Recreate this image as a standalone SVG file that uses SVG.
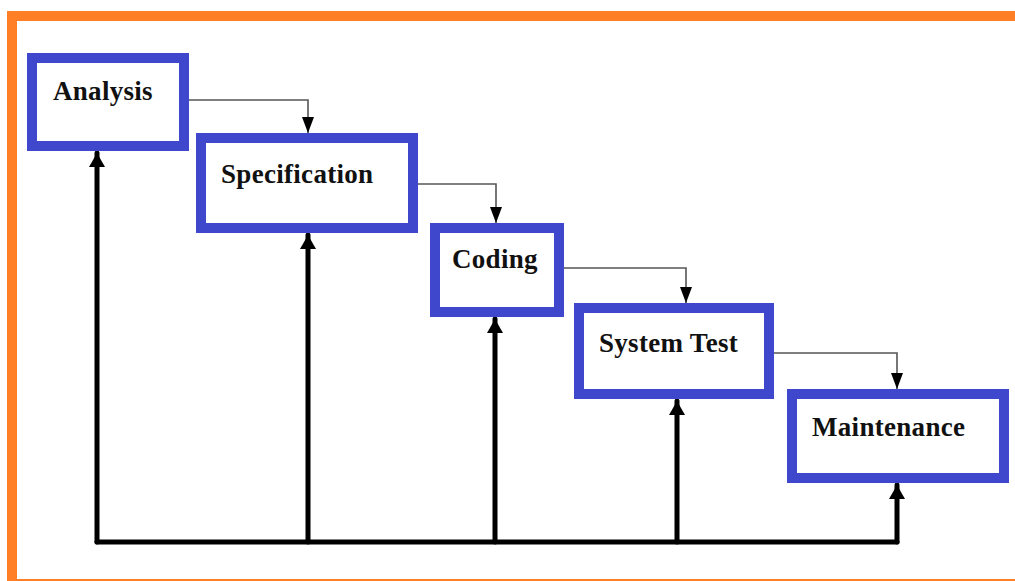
<svg xmlns="http://www.w3.org/2000/svg" width="1015" height="581" viewBox="0 0 1015 581">
  <style>
    .frame { fill: none; stroke: #ff7f27; stroke-width: 10; }
    .box { fill: #ffffff; stroke: #3f47cc; stroke-width: 10; }
    .label { font-family: "Liberation Serif", "Times New Roman", serif; font-weight: bold; font-size: 27px; letter-spacing: 0.3px; fill: #111111; }
    .flow { fill: none; stroke: #555555; stroke-width: 1.6; }
    .feedback { fill: none; stroke: #000000; stroke-width: 5; stroke-linejoin: round; stroke-linecap: round; }
  </style>
  <defs>
    <marker id="thinHead" markerUnits="userSpaceOnUse" markerWidth="16" markerHeight="12" refX="16" refY="6" orient="auto">
      <path d="M0,0 L16,6 L0,12 Z" fill="#000000"/>
    </marker>
    <marker id="thickHead" markerUnits="userSpaceOnUse" markerWidth="14" markerHeight="16" refX="14" refY="8" orient="auto">
      <path d="M0,0 L14,8 L0,16 Z" fill="#000000"/>
    </marker>
  </defs>

  <rect width="1015" height="581" fill="#ffffff"/>
  <rect class="frame" x="12" y="16" width="1020" height="568"/>

  <g id="connectors">
    <!-- forward flow between phases -->
    <path class="flow" d="M189,100 H308 V133" marker-end="url(#thinHead)"/>
    <path class="flow" d="M418,184 H496 V223" marker-end="url(#thinHead)"/>
    <path class="flow" d="M564,268 H686 V303" marker-end="url(#thinHead)"/>
    <path class="flow" d="M774,353 H897 V389" marker-end="url(#thinHead)"/>
    <!-- feedback bus returning to every phase -->
    <path class="feedback" d="M97,542 H897"/>
    <path class="feedback" d="M97,542 V153" marker-end="url(#thickHead)"/>
    <path class="feedback" d="M308,542 V235" marker-end="url(#thickHead)"/>
    <path class="feedback" d="M495,542 V319" marker-end="url(#thickHead)"/>
    <path class="feedback" d="M677,542 V401" marker-end="url(#thickHead)"/>
    <path class="feedback" d="M897,542 V485" marker-end="url(#thickHead)"/>
  </g>

  <g id="analysis">
    <rect class="box" x="32" y="58" width="152" height="88"/>
    <text class="label" x="53" y="100">Analysis</text>
  </g>
  <g id="specification">
    <rect class="box" x="201" y="138" width="212" height="90"/>
    <text class="label" x="221" y="183">Specification</text>
  </g>
  <g id="coding">
    <rect class="box" x="435" y="228" width="124" height="84"/>
    <text class="label" x="452" y="268">Coding</text>
  </g>
  <g id="system-test">
    <rect class="box" x="579" y="308" width="190" height="86"/>
    <text class="label" x="599" y="352">System Test</text>
  </g>
  <g id="maintenance">
    <rect class="box" x="792" y="394" width="212" height="84"/>
    <text class="label" x="812" y="436">Maintenance</text>
  </g>
</svg>
